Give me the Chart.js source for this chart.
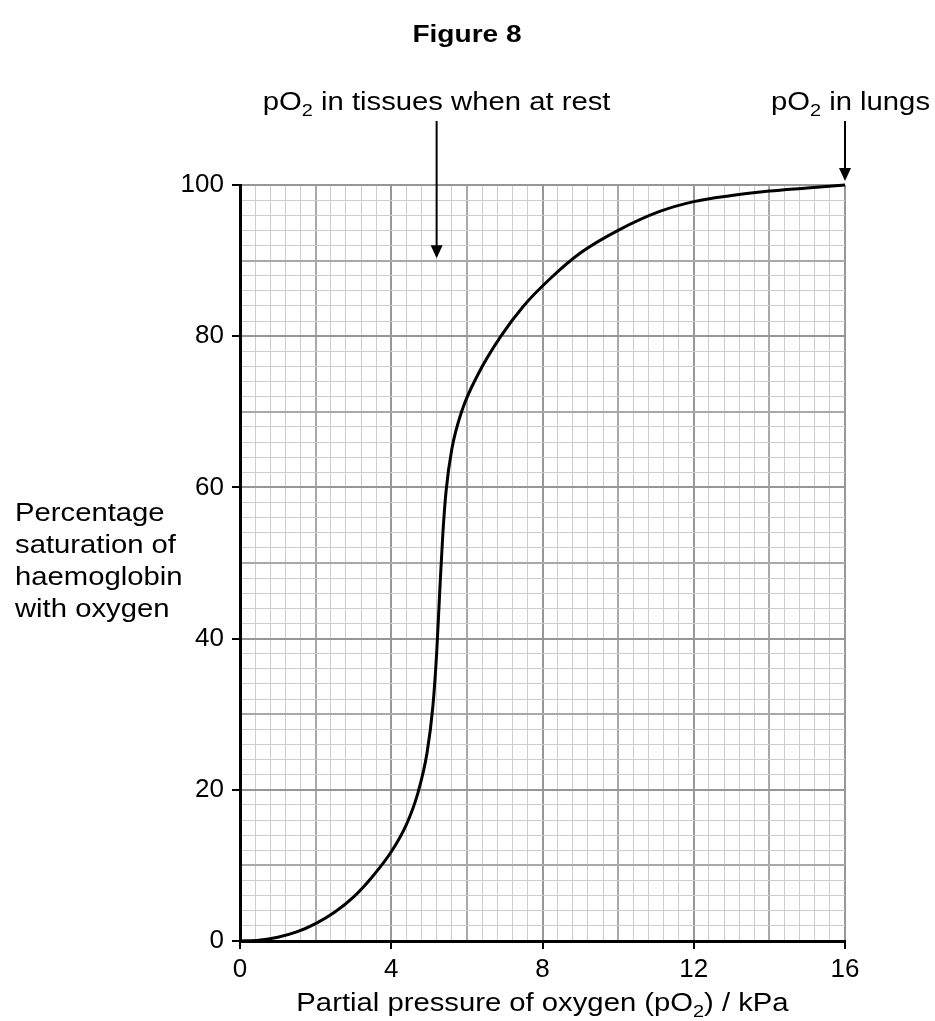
<!DOCTYPE html>
<html>
<head>
<meta charset="utf-8">
<script src="https://cdn.jsdelivr.net/npm/chart.js@4"></script>
<style>
html, body { margin: 0; padding: 0; background: #fff; }
</style>
</head>
<body>
<canvas id="curve" width="935" height="1021"></canvas>
<script>
// values
const pressureKPa = [0, 0.5, 1.0, 1.5, 2.0, 2.5, 3.0, 3.5, 4.0, 4.4, 4.7, 4.95, 5.1, 5.2, 5.28, 5.36, 5.45, 5.6, 5.86, 6.3, 6.9, 7.5, 8.2, 9.0, 10.0, 11.1, 12.0, 13.0, 14.0, 15.0, 16.0];
const saturationPct = [0, 0.1, 0.5, 1.2, 2.3, 3.8, 5.8, 8.5, 11.8, 15.4, 19.5, 25, 31, 38, 46, 53.5, 59.5, 65, 70, 75, 80, 84, 87.6, 91, 94, 96.5, 97.8, 98.6, 99.2, 99.6, 100];
const xTickLabels = [0, 4, 8, 12, 16];
const yTickLabels = [0, 20, 40, 60, 80, 100];
const yTitleLines = ['Percentage', 'saturation of', 'haemoglobin', 'with oxygen'];
const arrowLabels = ['in tissues when at rest', 'in lungs'];
const arrowPressure = [5.2, 16];
const arrowTipPct = [90.3, 100];

const FONT = '"Liberation Sans", Arial, sans-serif';
const stretch = 1.17;

function gridColor(idx) {
    if (idx % 10 === 0) return '#979797';
    if (idx % 5 === 0) return '#a9a9a9';
    return '#cdcdcd';
}
function gridWidth(idx) {
    return idx % 5 === 0 ? 2 : 1;
}

// draw text in parts, some as subscripts, slightly widened like the print
function drawParts(ctx, parts, x, y, align, size, bold) {
    const main = (bold ? 'bold ' : '') + size + 'px ' + FONT;
    const sub = Math.round(size * 0.68) + 'px ' + FONT;
    let total = 0;
    parts.forEach(p => {
        ctx.font = p.sub ? sub : main;
        p.w = ctx.measureText(p.t).width * stretch;
        total += p.w;
    });
    let cx = x;
    if (align === 'center') cx = x - total / 2;
    if (align === 'right') cx = x - total;
    parts.forEach(p => {
        ctx.save();
        ctx.font = p.sub ? sub : main;
        ctx.translate(cx, y + (p.sub ? 6 : 0));
        ctx.scale(stretch, 1);
        ctx.textAlign = 'left';
        ctx.textBaseline = 'alphabetic';
        ctx.fillStyle = '#000';
        ctx.fillText(p.t, 0, 0);
        ctx.restore();
        cx += p.w;
    });
}

function arrow(ctx, x, y0, y1) {
    ctx.save();
    ctx.strokeStyle = '#000';
    ctx.fillStyle = '#000';
    ctx.lineWidth = 2;
    ctx.beginPath();
    ctx.moveTo(x, y0);
    ctx.lineTo(x, y1 - 10);
    ctx.stroke();
    ctx.beginPath();
    ctx.moveTo(x, y1);
    ctx.lineTo(x - 6, y1 - 13);
    ctx.lineTo(x + 6, y1 - 13);
    ctx.closePath();
    ctx.fill();
    ctx.restore();
}

const labelsPlugin = {
    id: 'labels',
    afterDraw(chart) {
        const ctx = chart.ctx;
        const xs = chart.scales.x, ys = chart.scales.y;

        drawParts(ctx, [{ t: 'Figure 8' }], 467, 42, 'center', 24, true);

        yTitleLines.forEach((line, i) => {
            drawParts(ctx, [{ t: line }], 15, 521 + i * 32, 'left', 25);
        });

        drawParts(ctx, [{ t: 'Partial pressure of oxygen (pO' }, { t: '2', sub: true }, { t: ') / kPa' }],
            (xs.left + xs.right) / 2, 1011, 'center', 25);

        // arrows pointing at the curve / axis
        const tissuesX = xs.getPixelForValue(arrowPressure[0]);
        drawParts(ctx, [{ t: 'pO' }, { t: '2', sub: true }, { t: ' ' + arrowLabels[0] }], tissuesX, 110, 'center', 25);
        arrow(ctx, tissuesX, 121, ys.getPixelForValue(arrowTipPct[0]));

        const lungsX = xs.getPixelForValue(arrowPressure[1]);
        drawParts(ctx, [{ t: 'pO' }, { t: '2', sub: true }, { t: ' ' + arrowLabels[1] }], 930, 110, 'right', 25);
        arrow(ctx, lungsX, 121, ys.getPixelForValue(arrowTipPct[1]) - 4);
    }
};

new Chart(document.getElementById('curve'), {
    type: 'line',
    data: {
        datasets: [{
            data: pressureKPa.map((p, i) => ({ x: p, y: saturationPct[i] })),
            borderColor: '#000',
            borderWidth: 3,
            pointRadius: 0,
            cubicInterpolationMode: 'monotone',
            fill: false,
            clip: false
        }]
    },
    options: {
        responsive: false,
        animation: false,
        layout: { padding: { top: 185, right: 90, bottom: 0, left: 0 } },
        plugins: { legend: { display: false }, tooltip: { enabled: false } },
        scales: {
            x: {
                type: 'linear',
                min: 0,
                max: 16,
                afterBuildTicks: scale => {
                    scale.ticks = [];
                    for (let i = 0; i <= 40; i++) scale.ticks.push({ value: +(i * 0.4).toFixed(1) });
                },
                afterFit: scale => { scale.height = 80; },
                ticks: {
                    autoSkip: false,
                    maxRotation: 0,
                    padding: 5,
                    color: '#000',
                    font: { family: FONT, size: 26 },
                    callback: v => xTickLabels.includes(Math.round(v * 10) / 10) ? String(Math.round(v)) : ''
                },
                grid: {
                    color: c => gridColor(c.index),
                    lineWidth: c => gridWidth(c.index),
                    tickColor: c => c.index % 10 === 0 ? '#000' : 'rgba(0,0,0,0)',
                    tickWidth: 2,
                    tickLength: 8
                },
                border: { color: '#000', width: 3 }
            },
            y: {
                type: 'linear',
                min: 0,
                max: 100,
                afterBuildTicks: scale => {
                    scale.ticks = [];
                    for (let i = 0; i <= 50; i++) scale.ticks.push({ value: i * 2 });
                },
                afterFit: scale => { scale.width = 240; },
                ticks: {
                    autoSkip: false,
                    padding: 8,
                    color: '#000',
                    font: { family: FONT, size: 26 },
                    callback: v => yTickLabels.includes(v) ? String(v) : ''
                },
                grid: {
                    color: c => gridColor(c.index),
                    lineWidth: c => gridWidth(c.index),
                    tickColor: c => c.index % 10 === 0 ? '#000' : 'rgba(0,0,0,0)',
                    tickWidth: 2,
                    tickLength: 8
                },
                border: { color: '#000', width: 3 }
            }
        }
    },
    plugins: [labelsPlugin]
});
</script>
</body>
</html>
